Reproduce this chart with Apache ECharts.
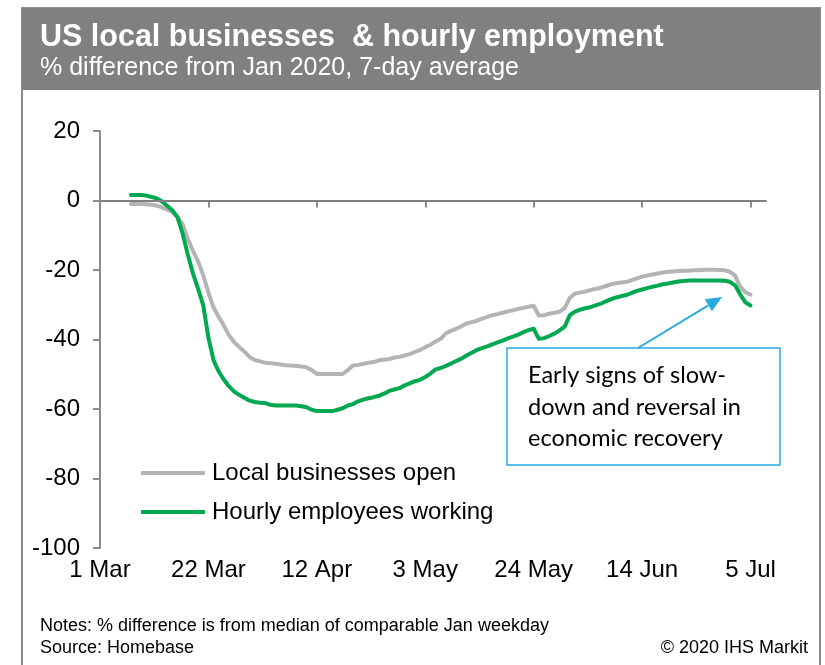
<!DOCTYPE html>
<html>
<head>
<meta charset="utf-8">
<script src="https://cdn.jsdelivr.net/npm/echarts@6/dist/echarts.min.js"></script>
<style>
html,body{margin:0;padding:0;background:#fff;}
#chart{width:825px;height:665px;}
</style>
</head>
<body>
<div id="chart"></div>
<script>
// ---- data ----
// x = days since 1 Mar 2020; first point is 7 Mar (day 6), one value per day
const startDay = 6;
const localBusinessesOpen = [
  -1.0,-1.0,-1.0,-1.1,-1.2,-1.5,-2.0,-2.6,-3.3,-4.8,
  -6.8,-11.0,-14.5,-17.5,-21.5,-26.5,-30.8,-33.5,-36.0,-38.8,
  -40.8,-42.2,-43.5,-45.1,-45.9,-46.3,-46.7,-46.8,-47.0,-47.2,
  -47.4,-47.5,-47.6,-47.8,-48.0,-48.8,-49.9,-49.9,-49.9,-49.9,
  -49.9,-49.9,-48.8,-47.5,-47.3,-47.0,-46.7,-46.5,-46.0,-45.8,
  -45.6,-45.2,-45.0,-44.6,-44.2,-43.6,-43.0,-42.2,-41.5,-40.6,
  -39.8,-38.2,-37.5,-36.9,-36.2,-35.4,-35.0,-34.6,-34.0,-33.5,
  -33.0,-32.7,-32.3,-31.9,-31.6,-31.2,-30.9,-30.6,-30.3,-33.1,
  -33.0,-32.6,-32.3,-32.0,-31.0,-28.0,-26.8,-26.5,-26.2,-25.8,
  -25.4,-25.1,-24.6,-24.1,-23.8,-23.6,-23.4,-22.9,-22.4,-21.9,
  -21.6,-21.3,-21.0,-20.7,-20.5,-20.4,-20.3,-20.2,-20.2,-20.1,
  -20.1,-19.9,-19.9,-19.9,-20.0,-20.1,-20.5,-21.6,-24.8,-26.4,
  -27.1
];
const hourlyEmployeesWorking = [
  1.6,1.6,1.6,1.4,1.0,0.6,-0.3,-1.5,-2.8,-4.8,
  -9.5,-15.5,-21.0,-25.4,-30.2,-39.5,-46.0,-49.2,-51.6,-53.5,
  -55.0,-56.0,-56.8,-57.6,-58.0,-58.2,-58.3,-58.8,-59.0,-59.0,
  -59.0,-59.0,-59.0,-59.2,-59.5,-60.2,-60.6,-60.6,-60.6,-60.6,
  -60.2,-59.8,-59.0,-58.6,-57.8,-57.3,-56.9,-56.6,-56.2,-55.6,
  -54.8,-54.4,-54.0,-53.2,-52.6,-52.0,-51.6,-50.8,-49.8,-48.6,
  -48.2,-47.6,-46.9,-46.2,-45.5,-44.6,-43.8,-43.0,-42.5,-42.0,
  -41.4,-40.8,-40.3,-39.7,-39.2,-38.6,-37.9,-37.3,-36.9,-39.8,
  -39.6,-39.0,-38.3,-37.4,-36.3,-33.0,-32.0,-31.4,-31.0,-30.7,
  -30.2,-29.7,-29.0,-28.4,-27.9,-27.5,-27.2,-26.6,-26.0,-25.6,
  -25.2,-24.8,-24.5,-24.1,-23.9,-23.6,-23.3,-23.2,-23.0,-23.0,
  -23.0,-23.0,-23.0,-23.0,-23.0,-23.1,-23.4,-24.4,-27.0,-29.3,
  -30.2
];
const xTickLabels = ['1 Mar','22 Mar','12 Apr','3 May','24 May','14 Jun','5 Jul'];
const xTickStep = 21;   // days between labelled ticks
const seriesNames = ['Local businesses open','Hourly employees working'];

// ---- build ----
const toPairs = arr => arr.map((v,i)=>[startDay+i, v]);
const xTickValues = xTickLabels.map((_,i)=>i*xTickStep);

const chart = echarts.init(document.getElementById('chart'), null, {renderer:'canvas'});
const FONT = '"Liberation Sans", Arial, sans-serif';
const axisGrey = '#8c8c8c';

// arrow geometry (annotation decoration)
const arrowStart = [638, 348], arrowTip = [722, 297];
const ang = Math.atan2(arrowTip[1]-arrowStart[1], arrowTip[0]-arrowStart[0]);
const headLen = 16, headW = 7;
const baseX = arrowTip[0]-headLen*Math.cos(ang), baseY = arrowTip[1]-headLen*Math.sin(ang);
const headPts = [
  arrowTip,
  [baseX + headW*Math.sin(ang), baseY - headW*Math.cos(ang)],
  [baseX - headW*Math.sin(ang), baseY + headW*Math.cos(ang)]
];

const option = {
  animation:false,
  backgroundColor:'#ffffff',
  grid:{left:100, top:131, width:666, height:417, containLabel:false},
  legend:{
    orient:'vertical', left:141, top:461, padding:0,
    itemWidth:64, itemHeight:4, itemGap:15, icon:'rect',
    textStyle:{fontFamily:FONT, fontSize:24, color:'#000', padding:[0,0,0,2]},
    data:seriesNames
  },
  xAxis:{
    type:'value', min:0, max:129,
    axisLine:{show:true, lineStyle:{color:axisGrey, width:2}},
    axisTick:{show:true, length:7, lineStyle:{color:axisGrey, width:2}, customValues:xTickValues},
    axisLabel:{customValues:xTickValues, formatter:v=>xTickLabels[Math.round(v/xTickStep)] || '',
      fontFamily:FONT, fontSize:24, color:'#000', margin:10},
    splitLine:{show:false}
  },
  yAxis:{
    type:'value', min:-100, max:20, interval:20,
    axisLine:{show:true, lineStyle:{color:axisGrey, width:2}},
    axisTick:{show:true, length:7, lineStyle:{color:axisGrey, width:2}},
    axisLabel:{fontFamily:FONT, fontSize:24, color:'#000', margin:20},
    splitLine:{show:false}
  },
  series:[
    {
      name:'zero', type:'line', data:[], z:1, silent:true,
      markLine:{silent:true, symbol:'none', label:{show:false},
        lineStyle:{color:'#7f7f7f', width:2, type:'solid'}, data:[{yAxis:0}]}
    },
    {
      name:seriesNames[0], type:'line', z:2, showSymbol:false, symbol:'none',
      data:toPairs(localBusinessesOpen),
      itemStyle:{color:'#b4b4b6'},
      lineStyle:{color:'#b4b4b6', width:4, cap:'round', join:'round'}
    },
    {
      name:seriesNames[1], type:'line', z:3, showSymbol:false, symbol:'none',
      data:toPairs(hourlyEmployeesWorking),
      itemStyle:{color:'#00a84f'},
      lineStyle:{color:'#00a84f', width:4, cap:'round', join:'round'}
    }
  ],
  graphic:[
    {type:'rect', z:-10, shape:{x:22, y:8, width:798, height:680},
      style:{fill:'none', stroke:'#8c8c8c', lineWidth:2}},
    {type:'rect', z:-5, shape:{x:22, y:8, width:798, height:82},
      style:{fill:'#808080'}},
    {type:'text', left:40, top:22, z:10,
      style:{text:'US local businesses  & hourly employment', fill:'#fff',
        font:'bold 30.5px "Liberation Sans", Arial, sans-serif'}},
    {type:'text', left:40, top:56, z:10,
      style:{text:'% difference from Jan 2020, 7-day average', fill:'#fff',
        font:'25px "Liberation Sans", Arial, sans-serif'}},
    {type:'rect', z:20, shape:{x:507, y:348, width:273, height:117},
      style:{fill:'#fff', stroke:'#29abe2', lineWidth:1.5}},
    {type:'text', left:528, top:360, z:21,
      style:{text:'Early signs of slow-\ndown and reversal in\neconomic recovery',
        fill:'#000', lineHeight:31.5, font:'23.5px Lato, "Open Sans", sans-serif'}},
    {type:'line', z:22, shape:{x1:arrowStart[0], y1:arrowStart[1], x2:baseX, y2:baseY},
      style:{stroke:'#29abe2', lineWidth:2}},
    {type:'polygon', z:22, shape:{points:headPts}, style:{fill:'#29abe2'}},
    {type:'text', left:40, top:617, z:10,
      style:{text:'Notes: % difference is from median of comparable Jan weekday', fill:'#000',
        font:'18px "Liberation Sans", Arial, sans-serif'}},
    {type:'text', left:40, top:639, z:10,
      style:{text:'Source: Homebase', fill:'#000',
        font:'18px "Liberation Sans", Arial, sans-serif'}},
    {type:'text', right:17, top:639, z:10,
      style:{text:'© 2020 IHS Markit', fill:'#000', textAlign:'right',
        font:'18px "Liberation Sans", Arial, sans-serif'}}
  ]
};
chart.setOption(option);
</script>
</body>
</html>
